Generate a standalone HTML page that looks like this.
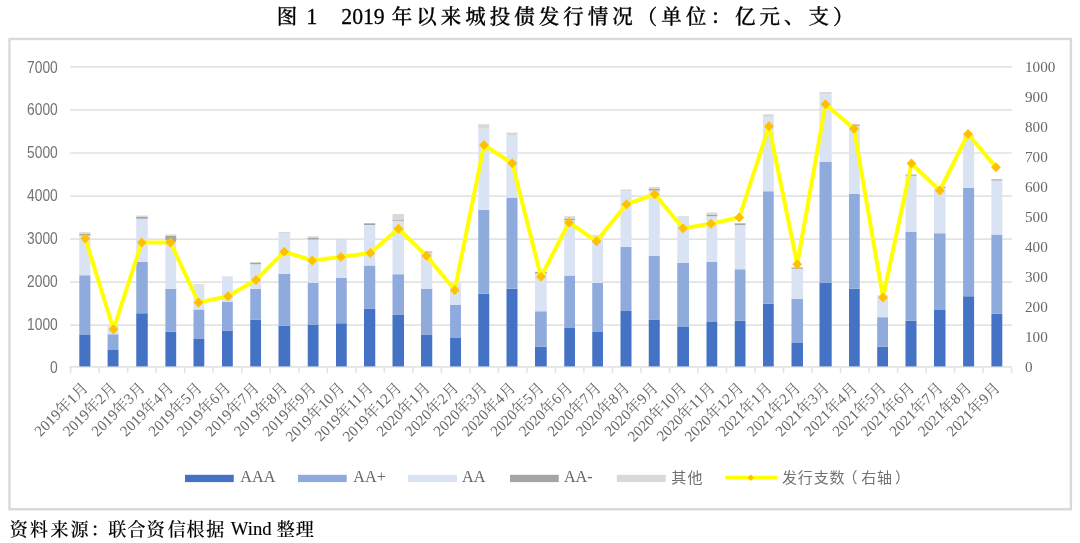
<!DOCTYPE html>
<html lang="zh"><head><meta charset="utf-8"><title>图1 2019年以来城投债发行情况</title>
<style>html,body{margin:0;padding:0;background:#fff}body{width:1080px;height:543px;overflow:hidden}svg{display:block}.kai{font-family:"Liberation Serif","Noto Serif CJK SC",serif;fill:#000}.ser{font-family:"Liberation Serif","Noto Serif CJK SC",serif;fill:#686868;font-size:15.2px}.san{font-family:"Liberation Sans","Noto Sans CJK SC",sans-serif;fill:#727272;font-size:14.67px}</style></head><body>
<svg width="1080" height="543" viewBox="0 0 1080 543">
<defs><filter id="bl" x="-5%" y="-20%" width="110%" height="140%"><feGaussianBlur stdDeviation="0.45"/></filter><filter id="bl2" x="-5%" y="-20%" width="110%" height="140%"><feGaussianBlur stdDeviation="0.35"/></filter></defs>
<rect x="0" y="0" width="1080" height="543" fill="#fff"/>
<g class="kai" font-size="22.3px" filter="url(#bl2)" stroke="#000" stroke-width="0.3">
<text x="276.8" y="24.1" font-size="20.5px" font-weight="500">图</text>
<text x="306.3" y="24.4">1</text>
<text x="341.3" y="24.4" textLength="43.4" lengthAdjust="spacingAndGlyphs">2019</text>
<text x="391.65" y="24.1" font-size="20.5px" font-weight="500" letter-spacing="4.02px">年以来城投债发行情况（单位：亿元、支）</text>
</g>
<rect x="9.5" y="39" width="1061.4" height="470.25" fill="#fff" stroke="#D9D9D9" stroke-width="2.4"/>
<line x1="70.20" y1="325.20" x2="1011.60" y2="325.20" stroke="#E3E3E3" stroke-width="1.7"/>
<line x1="70.20" y1="282.10" x2="1011.60" y2="282.10" stroke="#E3E3E3" stroke-width="1.7"/>
<line x1="70.20" y1="239.20" x2="1011.60" y2="239.20" stroke="#E3E3E3" stroke-width="1.7"/>
<line x1="70.20" y1="196.10" x2="1011.60" y2="196.10" stroke="#E3E3E3" stroke-width="1.7"/>
<line x1="70.20" y1="153.00" x2="1011.60" y2="153.00" stroke="#E3E3E3" stroke-width="1.7"/>
<line x1="70.20" y1="109.90" x2="1011.60" y2="109.90" stroke="#E3E3E3" stroke-width="1.7"/>
<line x1="70.20" y1="66.90" x2="1011.60" y2="66.90" stroke="#E3E3E3" stroke-width="1.7"/>
<line x1="69.60" y1="366.95" x2="1011.90" y2="366.95" stroke="#E3E3E3" stroke-width="1.7"/>
<line x1="70.65" y1="366.95" x2="70.65" y2="372.85" stroke="#E3E3E3" stroke-width="1.6"/>
<line x1="99.17" y1="366.95" x2="99.17" y2="372.85" stroke="#E3E3E3" stroke-width="1.6"/>
<line x1="127.68" y1="366.95" x2="127.68" y2="372.85" stroke="#E3E3E3" stroke-width="1.6"/>
<line x1="156.19" y1="366.95" x2="156.19" y2="372.85" stroke="#E3E3E3" stroke-width="1.6"/>
<line x1="184.71" y1="366.95" x2="184.71" y2="372.85" stroke="#E3E3E3" stroke-width="1.6"/>
<line x1="213.22" y1="366.95" x2="213.22" y2="372.85" stroke="#E3E3E3" stroke-width="1.6"/>
<line x1="241.74" y1="366.95" x2="241.74" y2="372.85" stroke="#E3E3E3" stroke-width="1.6"/>
<line x1="270.25" y1="366.95" x2="270.25" y2="372.85" stroke="#E3E3E3" stroke-width="1.6"/>
<line x1="298.77" y1="366.95" x2="298.77" y2="372.85" stroke="#E3E3E3" stroke-width="1.6"/>
<line x1="327.28" y1="366.95" x2="327.28" y2="372.85" stroke="#E3E3E3" stroke-width="1.6"/>
<line x1="355.80" y1="366.95" x2="355.80" y2="372.85" stroke="#E3E3E3" stroke-width="1.6"/>
<line x1="384.32" y1="366.95" x2="384.32" y2="372.85" stroke="#E3E3E3" stroke-width="1.6"/>
<line x1="412.83" y1="366.95" x2="412.83" y2="372.85" stroke="#E3E3E3" stroke-width="1.6"/>
<line x1="441.35" y1="366.95" x2="441.35" y2="372.85" stroke="#E3E3E3" stroke-width="1.6"/>
<line x1="469.86" y1="366.95" x2="469.86" y2="372.85" stroke="#E3E3E3" stroke-width="1.6"/>
<line x1="498.38" y1="366.95" x2="498.38" y2="372.85" stroke="#E3E3E3" stroke-width="1.6"/>
<line x1="526.89" y1="366.95" x2="526.89" y2="372.85" stroke="#E3E3E3" stroke-width="1.6"/>
<line x1="555.40" y1="366.95" x2="555.40" y2="372.85" stroke="#E3E3E3" stroke-width="1.6"/>
<line x1="583.92" y1="366.95" x2="583.92" y2="372.85" stroke="#E3E3E3" stroke-width="1.6"/>
<line x1="612.43" y1="366.95" x2="612.43" y2="372.85" stroke="#E3E3E3" stroke-width="1.6"/>
<line x1="640.95" y1="366.95" x2="640.95" y2="372.85" stroke="#E3E3E3" stroke-width="1.6"/>
<line x1="669.47" y1="366.95" x2="669.47" y2="372.85" stroke="#E3E3E3" stroke-width="1.6"/>
<line x1="697.98" y1="366.95" x2="697.98" y2="372.85" stroke="#E3E3E3" stroke-width="1.6"/>
<line x1="726.50" y1="366.95" x2="726.50" y2="372.85" stroke="#E3E3E3" stroke-width="1.6"/>
<line x1="755.01" y1="366.95" x2="755.01" y2="372.85" stroke="#E3E3E3" stroke-width="1.6"/>
<line x1="783.52" y1="366.95" x2="783.52" y2="372.85" stroke="#E3E3E3" stroke-width="1.6"/>
<line x1="812.04" y1="366.95" x2="812.04" y2="372.85" stroke="#E3E3E3" stroke-width="1.6"/>
<line x1="840.55" y1="366.95" x2="840.55" y2="372.85" stroke="#E3E3E3" stroke-width="1.6"/>
<line x1="869.07" y1="366.95" x2="869.07" y2="372.85" stroke="#E3E3E3" stroke-width="1.6"/>
<line x1="897.59" y1="366.95" x2="897.59" y2="372.85" stroke="#E3E3E3" stroke-width="1.6"/>
<line x1="926.10" y1="366.95" x2="926.10" y2="372.85" stroke="#E3E3E3" stroke-width="1.6"/>
<line x1="954.62" y1="366.95" x2="954.62" y2="372.85" stroke="#E3E3E3" stroke-width="1.6"/>
<line x1="983.13" y1="366.95" x2="983.13" y2="372.85" stroke="#E3E3E3" stroke-width="1.6"/>
<line x1="1011.64" y1="366.95" x2="1011.64" y2="372.85" stroke="#E3E3E3" stroke-width="1.6"/>
<rect x="79.30" y="334.40" width="11.10" height="32.00" fill="#4472C4"/>
<rect x="79.30" y="275.25" width="11.10" height="59.15" fill="#8FAADC"/>
<rect x="79.30" y="235.50" width="11.10" height="39.75" fill="#DAE3F3"/>
<rect x="79.30" y="233.90" width="11.10" height="1.60" fill="#A5A5A5"/>
<rect x="79.30" y="232.20" width="11.10" height="1.70" fill="#D9D9D9"/>
<rect x="107.60" y="350.00" width="10.90" height="16.40" fill="#4472C4"/>
<rect x="107.60" y="334.25" width="10.90" height="15.75" fill="#8FAADC"/>
<rect x="107.60" y="326.00" width="10.90" height="8.25" fill="#DAE3F3"/>
<rect x="136.25" y="313.25" width="11.50" height="53.15" fill="#4472C4"/>
<rect x="136.25" y="261.75" width="11.50" height="51.50" fill="#8FAADC"/>
<rect x="136.25" y="218.75" width="11.50" height="43.00" fill="#DAE3F3"/>
<rect x="136.25" y="217.00" width="11.50" height="1.75" fill="#A5A5A5"/>
<rect x="136.25" y="215.50" width="11.50" height="1.50" fill="#D9D9D9"/>
<rect x="165.40" y="331.75" width="10.80" height="34.65" fill="#4472C4"/>
<rect x="165.40" y="288.75" width="10.80" height="43.00" fill="#8FAADC"/>
<rect x="165.40" y="241.70" width="10.80" height="47.05" fill="#DAE3F3"/>
<rect x="165.40" y="235.60" width="10.80" height="6.10" fill="#A5A5A5"/>
<rect x="165.40" y="234.40" width="10.80" height="1.20" fill="#D9D9D9"/>
<rect x="193.50" y="339.00" width="10.80" height="27.40" fill="#4472C4"/>
<rect x="193.50" y="309.50" width="10.80" height="29.50" fill="#8FAADC"/>
<rect x="193.50" y="285.00" width="10.80" height="24.50" fill="#DAE3F3"/>
<rect x="193.50" y="284.25" width="10.80" height="0.75" fill="#D9D9D9"/>
<rect x="222.00" y="330.50" width="10.80" height="35.90" fill="#4472C4"/>
<rect x="222.00" y="302.00" width="10.80" height="28.50" fill="#8FAADC"/>
<rect x="222.00" y="277.00" width="10.80" height="25.00" fill="#DAE3F3"/>
<rect x="222.00" y="276.50" width="10.80" height="0.50" fill="#D9D9D9"/>
<rect x="250.25" y="319.50" width="10.75" height="46.90" fill="#4472C4"/>
<rect x="250.25" y="288.75" width="10.75" height="30.75" fill="#8FAADC"/>
<rect x="250.25" y="264.25" width="10.75" height="24.50" fill="#DAE3F3"/>
<rect x="250.25" y="262.50" width="10.75" height="1.75" fill="#A5A5A5"/>
<rect x="250.25" y="262.00" width="10.75" height="0.50" fill="#D9D9D9"/>
<rect x="278.50" y="325.75" width="11.75" height="40.65" fill="#4472C4"/>
<rect x="278.50" y="274.00" width="11.75" height="51.75" fill="#8FAADC"/>
<rect x="278.50" y="233.00" width="11.75" height="41.00" fill="#DAE3F3"/>
<rect x="278.50" y="232.00" width="11.75" height="1.00" fill="#D9D9D9"/>
<rect x="307.75" y="324.50" width="10.75" height="41.90" fill="#4472C4"/>
<rect x="307.75" y="282.75" width="10.75" height="41.75" fill="#8FAADC"/>
<rect x="307.75" y="239.50" width="10.75" height="43.25" fill="#DAE3F3"/>
<rect x="307.75" y="237.50" width="10.75" height="2.00" fill="#A5A5A5"/>
<rect x="307.75" y="236.25" width="10.75" height="1.25" fill="#D9D9D9"/>
<rect x="336.00" y="323.25" width="10.75" height="43.15" fill="#4472C4"/>
<rect x="336.00" y="278.00" width="10.75" height="45.25" fill="#8FAADC"/>
<rect x="336.00" y="240.00" width="10.75" height="38.00" fill="#DAE3F3"/>
<rect x="336.00" y="239.25" width="10.75" height="0.75" fill="#D9D9D9"/>
<rect x="364.00" y="308.50" width="11.25" height="57.90" fill="#4472C4"/>
<rect x="364.00" y="265.50" width="11.25" height="43.00" fill="#8FAADC"/>
<rect x="364.00" y="225.00" width="11.25" height="40.50" fill="#DAE3F3"/>
<rect x="364.00" y="223.25" width="11.25" height="1.75" fill="#A5A5A5"/>
<rect x="364.00" y="223.00" width="11.25" height="0.25" fill="#D9D9D9"/>
<rect x="392.50" y="314.50" width="11.50" height="51.90" fill="#4472C4"/>
<rect x="392.50" y="274.25" width="11.50" height="40.25" fill="#8FAADC"/>
<rect x="392.50" y="220.75" width="11.50" height="53.50" fill="#DAE3F3"/>
<rect x="392.50" y="219.50" width="11.50" height="1.25" fill="#A5A5A5"/>
<rect x="392.50" y="214.00" width="11.50" height="5.50" fill="#D9D9D9"/>
<rect x="421.00" y="334.50" width="11.25" height="31.90" fill="#4472C4"/>
<rect x="421.00" y="289.00" width="11.25" height="45.50" fill="#8FAADC"/>
<rect x="421.00" y="252.50" width="11.25" height="36.50" fill="#DAE3F3"/>
<rect x="421.00" y="251.50" width="11.25" height="1.00" fill="#A5A5A5"/>
<rect x="421.00" y="251.00" width="11.25" height="0.50" fill="#D9D9D9"/>
<rect x="450.10" y="338.00" width="10.90" height="28.40" fill="#4472C4"/>
<rect x="450.10" y="305.00" width="10.90" height="33.00" fill="#8FAADC"/>
<rect x="450.10" y="284.00" width="10.90" height="21.00" fill="#DAE3F3"/>
<rect x="450.10" y="283.50" width="10.90" height="0.50" fill="#D9D9D9"/>
<rect x="478.25" y="293.75" width="11.00" height="72.65" fill="#4472C4"/>
<rect x="478.25" y="210.00" width="11.00" height="83.75" fill="#8FAADC"/>
<rect x="478.25" y="128.75" width="11.00" height="81.25" fill="#DAE3F3"/>
<rect x="478.25" y="124.25" width="11.00" height="4.50" fill="#D9D9D9"/>
<rect x="506.50" y="288.75" width="11.00" height="77.65" fill="#4472C4"/>
<rect x="506.50" y="197.50" width="11.00" height="91.25" fill="#8FAADC"/>
<rect x="506.50" y="135.75" width="11.00" height="61.75" fill="#DAE3F3"/>
<rect x="506.50" y="132.50" width="11.00" height="3.25" fill="#D9D9D9"/>
<rect x="535.00" y="346.75" width="11.75" height="19.65" fill="#4472C4"/>
<rect x="535.00" y="311.25" width="11.75" height="35.50" fill="#8FAADC"/>
<rect x="535.00" y="273.50" width="11.75" height="37.75" fill="#DAE3F3"/>
<rect x="535.00" y="272.00" width="11.75" height="1.50" fill="#A5A5A5"/>
<rect x="535.00" y="271.50" width="11.75" height="0.50" fill="#D9D9D9"/>
<rect x="564.25" y="328.00" width="10.75" height="38.40" fill="#4472C4"/>
<rect x="564.25" y="275.50" width="10.75" height="52.50" fill="#8FAADC"/>
<rect x="564.25" y="220.00" width="10.75" height="55.50" fill="#DAE3F3"/>
<rect x="564.25" y="219.00" width="10.75" height="1.00" fill="#A5A5A5"/>
<rect x="564.25" y="216.25" width="10.75" height="2.75" fill="#D9D9D9"/>
<rect x="592.25" y="332.00" width="10.75" height="34.40" fill="#4472C4"/>
<rect x="592.25" y="283.00" width="10.75" height="49.00" fill="#8FAADC"/>
<rect x="592.25" y="235.75" width="10.75" height="47.25" fill="#DAE3F3"/>
<rect x="592.25" y="235.00" width="10.75" height="0.75" fill="#D9D9D9"/>
<rect x="620.50" y="311.00" width="11.00" height="55.40" fill="#4472C4"/>
<rect x="620.50" y="247.00" width="11.00" height="64.00" fill="#8FAADC"/>
<rect x="620.50" y="191.25" width="11.00" height="55.75" fill="#DAE3F3"/>
<rect x="620.50" y="189.50" width="11.00" height="1.75" fill="#D9D9D9"/>
<rect x="648.75" y="319.50" width="11.00" height="46.90" fill="#4472C4"/>
<rect x="648.75" y="255.75" width="11.00" height="63.75" fill="#8FAADC"/>
<rect x="648.75" y="190.50" width="11.00" height="65.25" fill="#DAE3F3"/>
<rect x="648.75" y="188.75" width="11.00" height="1.75" fill="#A5A5A5"/>
<rect x="648.75" y="187.00" width="11.00" height="1.75" fill="#D9D9D9"/>
<rect x="677.25" y="327.00" width="11.75" height="39.40" fill="#4472C4"/>
<rect x="677.25" y="263.00" width="11.75" height="64.00" fill="#8FAADC"/>
<rect x="677.25" y="217.00" width="11.75" height="46.00" fill="#DAE3F3"/>
<rect x="677.25" y="216.25" width="11.75" height="0.75" fill="#D9D9D9"/>
<rect x="706.50" y="322.00" width="10.75" height="44.40" fill="#4472C4"/>
<rect x="706.50" y="262.00" width="10.75" height="60.00" fill="#8FAADC"/>
<rect x="706.50" y="216.25" width="10.75" height="45.75" fill="#DAE3F3"/>
<rect x="706.50" y="214.50" width="10.75" height="1.75" fill="#A5A5A5"/>
<rect x="706.50" y="212.50" width="10.75" height="2.00" fill="#D9D9D9"/>
<rect x="734.75" y="320.75" width="10.75" height="45.65" fill="#4472C4"/>
<rect x="734.75" y="269.25" width="10.75" height="51.50" fill="#8FAADC"/>
<rect x="734.75" y="225.00" width="10.75" height="44.25" fill="#DAE3F3"/>
<rect x="734.75" y="223.25" width="10.75" height="1.75" fill="#A5A5A5"/>
<rect x="734.75" y="223.00" width="10.75" height="0.25" fill="#D9D9D9"/>
<rect x="763.00" y="303.75" width="10.75" height="62.65" fill="#4472C4"/>
<rect x="763.00" y="191.25" width="10.75" height="112.50" fill="#8FAADC"/>
<rect x="763.00" y="117.50" width="10.75" height="73.75" fill="#DAE3F3"/>
<rect x="763.00" y="114.25" width="10.75" height="3.25" fill="#D9D9D9"/>
<rect x="791.50" y="343.00" width="11.50" height="23.40" fill="#4472C4"/>
<rect x="791.50" y="298.75" width="11.50" height="44.25" fill="#8FAADC"/>
<rect x="791.50" y="268.75" width="11.50" height="30.00" fill="#DAE3F3"/>
<rect x="791.50" y="267.50" width="11.50" height="1.25" fill="#A5A5A5"/>
<rect x="819.50" y="283.00" width="12.20" height="83.40" fill="#4472C4"/>
<rect x="819.50" y="162.00" width="12.20" height="121.00" fill="#8FAADC"/>
<rect x="819.50" y="94.20" width="12.20" height="67.80" fill="#DAE3F3"/>
<rect x="819.50" y="92.00" width="12.20" height="2.20" fill="#D9D9D9"/>
<rect x="849.00" y="288.75" width="10.75" height="77.65" fill="#4472C4"/>
<rect x="849.00" y="194.00" width="10.75" height="94.75" fill="#8FAADC"/>
<rect x="849.00" y="125.75" width="10.75" height="68.25" fill="#DAE3F3"/>
<rect x="849.00" y="124.50" width="10.75" height="1.25" fill="#A5A5A5"/>
<rect x="877.20" y="346.75" width="10.80" height="19.65" fill="#4472C4"/>
<rect x="877.20" y="317.20" width="10.80" height="29.55" fill="#8FAADC"/>
<rect x="877.20" y="295.50" width="10.80" height="21.70" fill="#DAE3F3"/>
<rect x="877.20" y="295.20" width="10.80" height="0.30" fill="#D9D9D9"/>
<rect x="905.50" y="320.75" width="11.00" height="45.65" fill="#4472C4"/>
<rect x="905.50" y="232.00" width="11.00" height="88.75" fill="#8FAADC"/>
<rect x="905.50" y="175.75" width="11.00" height="56.25" fill="#DAE3F3"/>
<rect x="905.50" y="174.50" width="11.00" height="1.25" fill="#A5A5A5"/>
<rect x="905.50" y="174.00" width="11.00" height="0.50" fill="#D9D9D9"/>
<rect x="934.00" y="310.00" width="11.50" height="56.40" fill="#4472C4"/>
<rect x="934.00" y="233.25" width="11.50" height="76.75" fill="#8FAADC"/>
<rect x="934.00" y="188.00" width="11.50" height="45.25" fill="#DAE3F3"/>
<rect x="934.00" y="187.00" width="11.50" height="1.00" fill="#A5A5A5"/>
<rect x="934.00" y="186.50" width="11.50" height="0.50" fill="#D9D9D9"/>
<rect x="963.10" y="296.25" width="11.00" height="70.15" fill="#4472C4"/>
<rect x="963.10" y="188.00" width="11.00" height="108.25" fill="#8FAADC"/>
<rect x="963.10" y="134.60" width="11.00" height="53.40" fill="#DAE3F3"/>
<rect x="963.10" y="134.10" width="11.00" height="0.50" fill="#D9D9D9"/>
<rect x="991.40" y="313.75" width="10.90" height="52.65" fill="#4472C4"/>
<rect x="991.40" y="234.50" width="10.90" height="79.25" fill="#8FAADC"/>
<rect x="991.40" y="180.50" width="10.90" height="54.00" fill="#DAE3F3"/>
<rect x="991.40" y="179.25" width="10.90" height="1.25" fill="#A5A5A5"/>
<rect x="991.40" y="179.00" width="10.90" height="0.25" fill="#D9D9D9"/>
<polyline fill="none" stroke="#FFFF00" stroke-width="4.0" stroke-linejoin="round" stroke-linecap="round" points="85.30,238.50 113.50,329.25 141.75,242.50 170.50,242.50 198.50,302.50 228.00,296.25 256.00,280.00 284.25,251.75 312.25,260.50 341.00,257.00 370.25,253.00 398.50,228.75 426.50,255.75 454.75,290.00 484.00,145.00 512.25,163.25 541.00,276.75 569.00,222.50 596.50,241.25 626.50,204.25 654.75,194.25 683.00,228.25 711.00,223.75 739.25,217.50 769.00,126.25 797.25,264.25 825.50,104.25 854.00,128.75 883.00,297.50 911.50,163.50 939.75,190.50 968.00,134.00 996.00,167.25"/>
<path d="M85.30 233.60 L90.20 238.50 L85.30 243.40 L80.40 238.50 Z" fill="#FFC000"/>
<path d="M113.50 324.35 L118.40 329.25 L113.50 334.15 L108.60 329.25 Z" fill="#FFC000"/>
<path d="M141.75 237.60 L146.65 242.50 L141.75 247.40 L136.85 242.50 Z" fill="#FFC000"/>
<path d="M170.50 237.60 L175.40 242.50 L170.50 247.40 L165.60 242.50 Z" fill="#FFC000"/>
<path d="M198.50 297.60 L203.40 302.50 L198.50 307.40 L193.60 302.50 Z" fill="#FFC000"/>
<path d="M228.00 291.35 L232.90 296.25 L228.00 301.15 L223.10 296.25 Z" fill="#FFC000"/>
<path d="M256.00 275.10 L260.90 280.00 L256.00 284.90 L251.10 280.00 Z" fill="#FFC000"/>
<path d="M284.25 246.85 L289.15 251.75 L284.25 256.65 L279.35 251.75 Z" fill="#FFC000"/>
<path d="M312.25 255.60 L317.15 260.50 L312.25 265.40 L307.35 260.50 Z" fill="#FFC000"/>
<path d="M341.00 252.10 L345.90 257.00 L341.00 261.90 L336.10 257.00 Z" fill="#FFC000"/>
<path d="M370.25 248.10 L375.15 253.00 L370.25 257.90 L365.35 253.00 Z" fill="#FFC000"/>
<path d="M398.50 223.85 L403.40 228.75 L398.50 233.65 L393.60 228.75 Z" fill="#FFC000"/>
<path d="M426.50 250.85 L431.40 255.75 L426.50 260.65 L421.60 255.75 Z" fill="#FFC000"/>
<path d="M454.75 285.10 L459.65 290.00 L454.75 294.90 L449.85 290.00 Z" fill="#FFC000"/>
<path d="M484.00 140.10 L488.90 145.00 L484.00 149.90 L479.10 145.00 Z" fill="#FFC000"/>
<path d="M512.25 158.35 L517.15 163.25 L512.25 168.15 L507.35 163.25 Z" fill="#FFC000"/>
<path d="M541.00 271.85 L545.90 276.75 L541.00 281.65 L536.10 276.75 Z" fill="#FFC000"/>
<path d="M569.00 217.60 L573.90 222.50 L569.00 227.40 L564.10 222.50 Z" fill="#FFC000"/>
<path d="M596.50 236.35 L601.40 241.25 L596.50 246.15 L591.60 241.25 Z" fill="#FFC000"/>
<path d="M626.50 199.35 L631.40 204.25 L626.50 209.15 L621.60 204.25 Z" fill="#FFC000"/>
<path d="M654.75 189.35 L659.65 194.25 L654.75 199.15 L649.85 194.25 Z" fill="#FFC000"/>
<path d="M683.00 223.35 L687.90 228.25 L683.00 233.15 L678.10 228.25 Z" fill="#FFC000"/>
<path d="M711.00 218.85 L715.90 223.75 L711.00 228.65 L706.10 223.75 Z" fill="#FFC000"/>
<path d="M739.25 212.60 L744.15 217.50 L739.25 222.40 L734.35 217.50 Z" fill="#FFC000"/>
<path d="M769.00 121.35 L773.90 126.25 L769.00 131.15 L764.10 126.25 Z" fill="#FFC000"/>
<path d="M797.25 259.35 L802.15 264.25 L797.25 269.15 L792.35 264.25 Z" fill="#FFC000"/>
<path d="M825.50 99.35 L830.40 104.25 L825.50 109.15 L820.60 104.25 Z" fill="#FFC000"/>
<path d="M854.00 123.85 L858.90 128.75 L854.00 133.65 L849.10 128.75 Z" fill="#FFC000"/>
<path d="M883.00 292.60 L887.90 297.50 L883.00 302.40 L878.10 297.50 Z" fill="#FFC000"/>
<path d="M911.50 158.60 L916.40 163.50 L911.50 168.40 L906.60 163.50 Z" fill="#FFC000"/>
<path d="M939.75 185.60 L944.65 190.50 L939.75 195.40 L934.85 190.50 Z" fill="#FFC000"/>
<path d="M968.00 129.10 L972.90 134.00 L968.00 138.90 L963.10 134.00 Z" fill="#FFC000"/>
<path d="M996.00 162.35 L1000.90 167.25 L996.00 172.15 L991.10 167.25 Z" fill="#FFC000"/>
<g filter="url(#bl)">
<text class="san" style="font-size:16.2px" x="57.8" y="372.94" text-anchor="end" textLength="7.7" lengthAdjust="spacingAndGlyphs">0</text>
<text class="san" style="font-size:16.2px" x="57.8" y="330.02" text-anchor="end" textLength="30.7" lengthAdjust="spacingAndGlyphs">1000</text>
<text class="san" style="font-size:16.2px" x="57.8" y="287.10" text-anchor="end" textLength="30.7" lengthAdjust="spacingAndGlyphs">2000</text>
<text class="san" style="font-size:16.2px" x="57.8" y="244.18" text-anchor="end" textLength="30.7" lengthAdjust="spacingAndGlyphs">3000</text>
<text class="san" style="font-size:16.2px" x="57.8" y="201.26" text-anchor="end" textLength="30.7" lengthAdjust="spacingAndGlyphs">4000</text>
<text class="san" style="font-size:16.2px" x="57.8" y="158.34" text-anchor="end" textLength="30.7" lengthAdjust="spacingAndGlyphs">5000</text>
<text class="san" style="font-size:16.2px" x="57.8" y="115.42" text-anchor="end" textLength="30.7" lengthAdjust="spacingAndGlyphs">6000</text>
<text class="san" style="font-size:16.2px" x="57.8" y="72.50" text-anchor="end" textLength="30.7" lengthAdjust="spacingAndGlyphs">7000</text>
<text class="ser" x="1025" y="371.60">0</text>
<text class="ser" x="1025" y="341.60">100</text>
<text class="ser" x="1025" y="311.60">200</text>
<text class="ser" x="1025" y="281.60">300</text>
<text class="ser" x="1025" y="251.60">400</text>
<text class="ser" x="1025" y="221.60">500</text>
<text class="ser" x="1025" y="191.60">600</text>
<text class="ser" x="1025" y="161.60">700</text>
<text class="ser" x="1025" y="131.60">800</text>
<text class="ser" x="1025" y="101.60">900</text>
<text class="ser" x="1025" y="71.60">1000</text>
<text class="ser" x="88.95" y="388.80" text-anchor="end" transform="rotate(-45 88.95 388.80)">2019年1月</text>
<text class="ser" x="117.45" y="388.80" text-anchor="end" transform="rotate(-45 117.45 388.80)">2019年2月</text>
<text class="ser" x="145.95" y="388.80" text-anchor="end" transform="rotate(-45 145.95 388.80)">2019年3月</text>
<text class="ser" x="174.45" y="388.80" text-anchor="end" transform="rotate(-45 174.45 388.80)">2019年4月</text>
<text class="ser" x="202.95" y="388.80" text-anchor="end" transform="rotate(-45 202.95 388.80)">2019年5月</text>
<text class="ser" x="231.45" y="388.80" text-anchor="end" transform="rotate(-45 231.45 388.80)">2019年6月</text>
<text class="ser" x="259.95" y="388.80" text-anchor="end" transform="rotate(-45 259.95 388.80)">2019年7月</text>
<text class="ser" x="288.45" y="388.80" text-anchor="end" transform="rotate(-45 288.45 388.80)">2019年8月</text>
<text class="ser" x="316.95" y="388.80" text-anchor="end" transform="rotate(-45 316.95 388.80)">2019年9月</text>
<text class="ser" x="345.45" y="388.80" text-anchor="end" transform="rotate(-45 345.45 388.80)">2019年10月</text>
<text class="ser" x="373.95" y="388.80" text-anchor="end" transform="rotate(-45 373.95 388.80)">2019年11月</text>
<text class="ser" x="402.45" y="388.80" text-anchor="end" transform="rotate(-45 402.45 388.80)">2019年12月</text>
<text class="ser" x="430.95" y="388.80" text-anchor="end" transform="rotate(-45 430.95 388.80)">2020年1月</text>
<text class="ser" x="459.45" y="388.80" text-anchor="end" transform="rotate(-45 459.45 388.80)">2020年2月</text>
<text class="ser" x="487.95" y="388.80" text-anchor="end" transform="rotate(-45 487.95 388.80)">2020年3月</text>
<text class="ser" x="516.45" y="388.80" text-anchor="end" transform="rotate(-45 516.45 388.80)">2020年4月</text>
<text class="ser" x="544.95" y="388.80" text-anchor="end" transform="rotate(-45 544.95 388.80)">2020年5月</text>
<text class="ser" x="573.45" y="388.80" text-anchor="end" transform="rotate(-45 573.45 388.80)">2020年6月</text>
<text class="ser" x="601.95" y="388.80" text-anchor="end" transform="rotate(-45 601.95 388.80)">2020年7月</text>
<text class="ser" x="630.45" y="388.80" text-anchor="end" transform="rotate(-45 630.45 388.80)">2020年8月</text>
<text class="ser" x="658.95" y="388.80" text-anchor="end" transform="rotate(-45 658.95 388.80)">2020年9月</text>
<text class="ser" x="687.45" y="388.80" text-anchor="end" transform="rotate(-45 687.45 388.80)">2020年10月</text>
<text class="ser" x="715.95" y="388.80" text-anchor="end" transform="rotate(-45 715.95 388.80)">2020年11月</text>
<text class="ser" x="744.45" y="388.80" text-anchor="end" transform="rotate(-45 744.45 388.80)">2020年12月</text>
<text class="ser" x="772.95" y="388.80" text-anchor="end" transform="rotate(-45 772.95 388.80)">2021年1月</text>
<text class="ser" x="801.45" y="388.80" text-anchor="end" transform="rotate(-45 801.45 388.80)">2021年2月</text>
<text class="ser" x="829.95" y="388.80" text-anchor="end" transform="rotate(-45 829.95 388.80)">2021年3月</text>
<text class="ser" x="858.45" y="388.80" text-anchor="end" transform="rotate(-45 858.45 388.80)">2021年4月</text>
<text class="ser" x="886.95" y="388.80" text-anchor="end" transform="rotate(-45 886.95 388.80)">2021年5月</text>
<text class="ser" x="915.45" y="388.80" text-anchor="end" transform="rotate(-45 915.45 388.80)">2021年6月</text>
<text class="ser" x="943.95" y="388.80" text-anchor="end" transform="rotate(-45 943.95 388.80)">2021年7月</text>
<text class="ser" x="972.45" y="388.80" text-anchor="end" transform="rotate(-45 972.45 388.80)">2021年8月</text>
<text class="ser" x="1000.95" y="388.80" text-anchor="end" transform="rotate(-45 1000.95 388.80)">2021年9月</text>
<text class="ser" style="font-size:16.2px" x="240.30" y="482.4">AAA</text>
<text class="ser" style="font-size:16.2px" x="353.30" y="482.4">AA+</text>
<text class="ser" style="font-size:16.2px" x="462.10" y="482.4">AA</text>
<text class="ser" style="font-size:16.2px" x="563.90" y="482.4">AA-</text>
<text class="san" style="font-size:15px" x="671.25 687.5" y="483.0">其他</text>
<text class="san" style="font-size:15px" x="781.95" dx="0 0 0 0 -3 3 0 2" letter-spacing="0.85px" y="483.0">发行支数（右轴）</text>
</g>
<rect x="185.00" y="474.8" width="48.75" height="7.3" fill="#4472C4"/>
<rect x="298.00" y="474.8" width="48.75" height="7.3" fill="#8FAADC"/>
<rect x="408.00" y="474.8" width="49.00" height="7.3" fill="#DAE3F3"/>
<rect x="510.00" y="474.8" width="48.75" height="7.3" fill="#A5A5A5"/>
<rect x="616.85" y="474.8" width="48.85" height="7.3" fill="#D9D9D9"/>
<line x1="725.3" y1="477.7" x2="777" y2="477.7" stroke="#FFFF00" stroke-width="3.7"/>
<path d="M750.75 474.5 L753.95 477.7 L750.75 480.9 L747.55 477.7 Z" fill="#FFC000"/>
<g class="kai" font-size="18.7px" filter="url(#bl2)" stroke="#000" stroke-width="0.15">
<text x="9.75 29.95 50.45 70.50 90.70 108.25 127.55 146.85 167.75 186.40 206.20" y="536.0" font-weight="500" font-size="18.0px">资料来源：联合资信根据</text>
<text x="230.8" y="534.9">Wind</text>
<text x="276.75 295.65" y="536.0" font-weight="500" font-size="18.0px">整理</text>
</g>
</svg></body></html>
